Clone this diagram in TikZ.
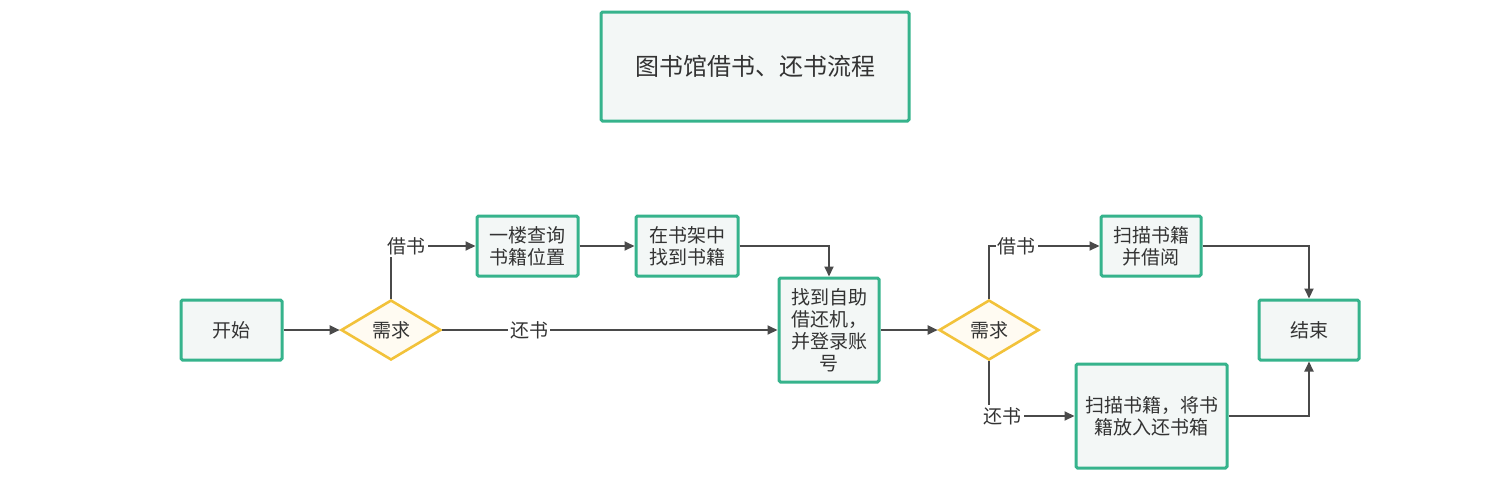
\documentclass[tikz,border=0pt]{standalone}
\usepackage{fontspec}
\setmainfont{Noto Sans CJK SC}
\usetikzlibrary{shapes.geometric,arrows.meta}
\definecolor{boxgreen}{HTML}{36B38C}
\definecolor{boxfill}{HTML}{F3F7F6}
\definecolor{dyellow}{HTML}{F2C23A}
\definecolor{dfill}{HTML}{FFFBF2}
\definecolor{linec}{HTML}{4A4A4A}
\definecolor{txt}{HTML}{333333}
\tikzset{
  box/.style={draw=boxgreen, fill=boxfill, line width=1.5pt, rectangle, rounded corners=0.8pt, inner sep=0pt, align=center, text=txt, font=\fontsize{9.5}{11}\selectfont},
  dia/.style={draw=dyellow, fill=dfill, line width=1.3pt, diamond, inner sep=0pt, minimum width=50pt, minimum height=30pt, text=txt, font=\fontsize{9.5}{11}\selectfont},
  conn/.style={draw=linec, line width=1pt, -{Triangle[length=5pt,width=4.5pt]}},
  lbl/.style={fill=white, inner sep=1pt, text=txt, font=\fontsize{9.5}{11}\selectfont}
}
\begin{document}
\begin{tikzpicture}[x=0.5pt,y=-0.5pt]
\useasboundingbox (0,0) rectangle (1511,483);
\node[box, minimum width=154pt, minimum height=54.5pt, font=\fontsize{12}{14}\selectfont] (title) at (755,66.5) {图书馆借书、还书流程};
\node[box, minimum width=50.5pt, minimum height=30pt] (start) at (231.5,330) {开始};
\node[dia] (d1) at (391,330) {需求};
\node[box, minimum width=50.5pt, minimum height=30pt] (q) at (527.5,246) {一楼查询\\书籍位置};
\node[box, minimum width=51pt, minimum height=30pt] (f) at (687,246) {在书架中\\找到书籍};
\node[box, minimum width=50pt, minimum height=52pt] (m) at (829,330) {找到自助\\借还机，\\并登录账\\号};
\node[dia] (d2) at (989,330) {需求};
\node[box, minimum width=50pt, minimum height=30pt] (b) at (1151,246) {扫描书籍\\并借阅};
\node[box, minimum width=50pt, minimum height=30pt] (e) at (1309,330) {结束};
\node[box, minimum width=75.5pt, minimum height=52pt] (r) at (1151.5,416) {扫描书籍，将书\\籍放入还书箱};

\draw[conn] (start) -- (d1);
\draw[conn] (d1.north) |- node[lbl, pos=0.593] {借书} (q.west);
\draw[conn] (q) -- (f);
\draw[conn] (f.east) -| (m.north);
\draw[conn] (d1.east) -- node[lbl, pos=0.26] {还书} (m.west);
\draw[conn] (m) -- (d2);
\draw[conn] (d2.north) |- node[lbl, pos=0.625] {借书} (b.west);
\draw[conn] (d2.south) |- node[lbl, pos=0.58] {还书} (r.west);
\draw[conn] (b.east) -| (e.north);
\draw[conn] (r.east) -| (e.south);
\end{tikzpicture}
\end{document}
